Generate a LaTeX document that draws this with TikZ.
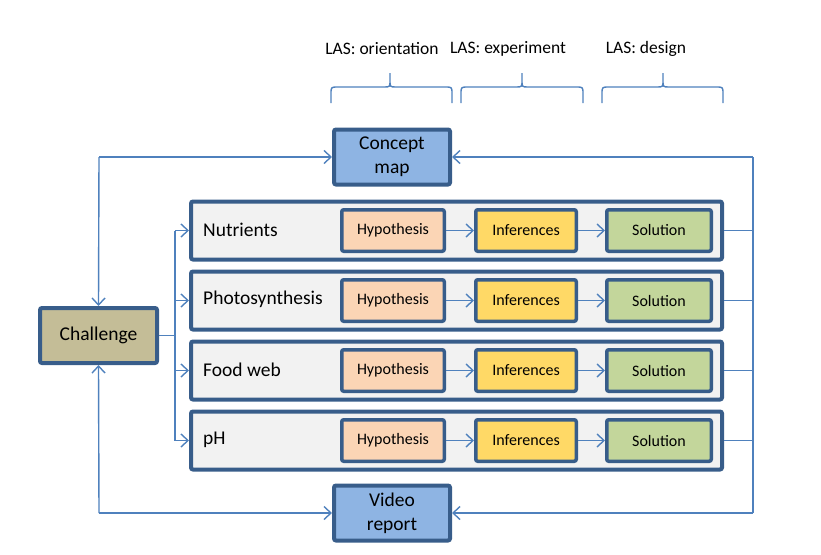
\documentclass[tikz,border=0pt]{standalone}
\usepackage{fontspec}
\setmainfont{Carlito}
\usetikzlibrary{arrows.meta}
\definecolor{bord}{HTML}{385D8A}
\definecolor{conn}{HTML}{4F81BD}
\definecolor{cmap}{HTML}{8EB4E3}
\definecolor{chal}{HTML}{C4BD97}
\definecolor{rowf}{HTML}{F2F2F2}
\definecolor{hypf}{HTML}{FBD5B5}
\definecolor{inff}{HTML}{FFD966}
\definecolor{solf}{HTML}{C3D69B}
\tikzset{
  bigbox/.style={draw=bord, line width=4pt, rounded corners=2pt, inner sep=0pt, align=center,
     font=\fontsize{19.5}{24}\selectfont},
  rowbox/.style={draw=bord, line width=4pt, rounded corners=2pt, fill=rowf, inner sep=0pt,
     minimum width=531pt, minimum height=58pt},
  smallbox/.style={draw=bord, line width=3.5pt, rounded corners=2pt, inner sep=0pt,
     minimum height=41.5pt, font=\fontsize{16}{18}\selectfont},
  rowlabel/.style={anchor=west, inner sep=0pt, font=\fontsize{19.5}{24}\selectfont},
  conline/.style={draw=conn, line width=1.4pt},
  arr/.style={conline, -{Straight Barb[length=7pt,width=13pt,line width=1.4pt]}},
  laslabel/.style={inner sep=0pt, font=\fontsize{17.5}{20}\selectfont},
  bracepath/.style={draw=conn, line width=1.4pt}
}
\begin{document}
\begin{tikzpicture}[x=1pt,y=-1pt]
\useasboundingbox (0,0) rectangle (821,554);

% LAS labels
\node[laslabel] (l1) at (382,49) {LAS: orientation};
\node[laslabel] (l2) at (508,49) {LAS: experiment};
\node[laslabel] (l3) at (646,49) {LAS: design};

% braces
\foreach \xa/\xm/\xb in {331/390/452, 461/522/583, 602/663/723}{
  \draw[bracepath] (\xa,103) -- (\xa,94) .. controls (\xa,87) .. (\xa+7,87)
     -- (\xm-6,87) .. controls (\xm,87) .. (\xm,80) -- (\xm,73)
     (\xm,80) .. controls (\xm,87) .. (\xm+6,87) -- (\xb-7,87)
     .. controls (\xb,87) .. (\xb,94) -- (\xb,103);
}

% big nodes
\node[bigbox, fill=cmap, minimum width=116pt, minimum height=55pt] (cm) at (392,157) {Concept\\map};
\node[bigbox, fill=cmap, minimum width=116pt, minimum height=55pt] (vr) at (392,513) {Video\\report};
\node[bigbox, fill=chal, minimum width=117pt, minimum height=55pt] (ch) at (98.5,335.5) {Challenge};

% rows
\foreach \i/\y/\lab in {1/230.5/Nutrients, 2/300.5/Photosynthesis, 3/370.5/Food web, 4/440.5/pH}{
  \node[rowbox] (r\i) at (456.5,\y) {};
  \node[rowlabel] (t\i) at (203,\y-1) {\lab};
  \node[smallbox, fill=hypf, minimum width=102.5pt] (h\i) at (393,\y) {Hypothesis};
  \node[smallbox, fill=inff, minimum width=100.5pt] (n\i) at (526,\y) {Inferences};
  \node[smallbox, fill=solf, minimum width=104.5pt] (s\i) at (659,\y) {Solution};
  \draw[arr] (h\i.east) -- (n\i.west);
  \draw[arr] (n\i.east) -- (s\i.west);
}

% left branching from challenge
\coordinate (lb) at (175,335.5);
\draw[conline] (ch.east) -- (lb);
\draw[conline] (175,230.5) -- (175,440.5);
\foreach \i in {1,2,3,4}{
  \draw[arr] (175,0 |- r\i.west) -- (r\i.west);
}

% outer left loop
\coordinate (ltop) at (99,157);
\coordinate (lbot) at (99,513);
\draw[arr] (ltop) -- (cm.west);
\draw[arr] (ltop) -- (ch.north);
\draw[arr] (lbot) -- (vr.west);
\draw[arr] (lbot) -- (ch.south);

% right collector
\coordinate (rtop) at (753,157);
\coordinate (rbot) at (753,513);
\draw[conline] (rtop) -- (rbot);
\foreach \i in {1,2,3,4}{
  \draw[conline] (r\i.east) -- (753,0 |- r\i.east);
}
\draw[arr] (rtop) -- (cm.east);
\draw[arr] (rbot) -- (vr.east);
\end{tikzpicture}
\end{document}
